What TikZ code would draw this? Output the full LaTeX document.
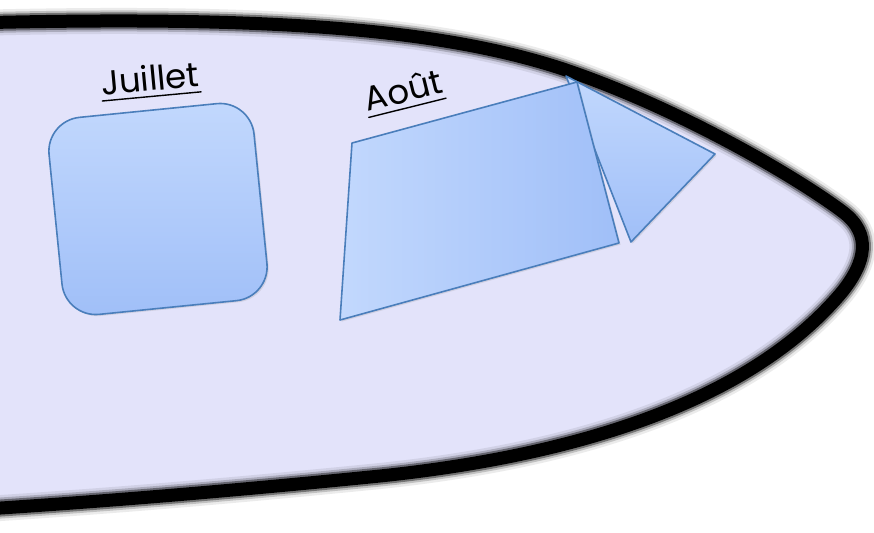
\documentclass[tikz,border=0pt]{standalone}
\usepackage{fontspec}
\setmainfont{Poppins}
\usetikzlibrary{shadows}
\definecolor{hull}{HTML}{E3E3FA}
\definecolor{boxtop}{HTML}{C2D8FD}
\definecolor{boxbot}{HTML}{A0BFF8}
\definecolor{boxline}{HTML}{4A7EBB}
% outline of the big shape, in pixel units
\newcommand{\hullpath}{(-30,23) .. controls (250,16) and (430,26) .. (560,68)
  .. controls (675,106) and (795,176) .. (843,212)
  .. controls (872,234) and (866,262) .. (842,292)
  .. controls (758,392) and (600,453) .. (380,476)
  .. controls (200,494) and (80,503) .. (-30,510)}

\begin{document}
\begin{tikzpicture}[
  x=0.5pt, y=-0.5pt,
  monthtext/.style={font=\fontsize{17}{20}\selectfont, inner xsep=0pt, inner ysep=2.5pt},
  facet/.style={draw=boxline, line width=0.8pt, line join=round,
    drop shadow={opacity=.2, shadow xshift=.8pt, shadow yshift=-.8pt}},
  roundbox/.style={facet, rounded corners=17pt, top color=boxtop, bottom color=boxbot, inner sep=0pt},
  rule/.style={line width=0.7pt, line cap=round},
]
  \useasboundingbox (0,0) rectangle (874,532);
  \clip (0,0) rectangle (874,532);
  \fill[white] (0,0) rectangle (874,532);
  \fill[hull] \hullpath -- cycle;
  \foreach \w/\o in {13pt/0.08,10.5pt/0.18,8.5pt/0.4,6.5pt/1}
    \draw[line width=\w, opacity=\o, line cap=round] \hullpath;

  % Juillet
  \node[roundbox, rotate=5.7, minimum width=103pt, minimum height=99pt] (juillet) at (158,209) {};
  \node[monthtext, rotate=5.3] (jlab) at (150,78) {Juillet};
  \draw[rule] (jlab.south west) -- (jlab.south east);

  % Août
  \shade[facet, top color=boxtop, bottom color=boxbot] (566,76) -- (715,154) -- (631,242) -- cycle;
  \shade[facet, left color=boxtop, right color=boxbot] (352,143) -- (577,82) -- (619,243) -- (340,320) -- cycle;
  \node[monthtext, rotate=14] (alab) at (403,90) {Août};
  \draw[rule] (alab.south west) -- (alab.south east);
\end{tikzpicture}
\end{document}
